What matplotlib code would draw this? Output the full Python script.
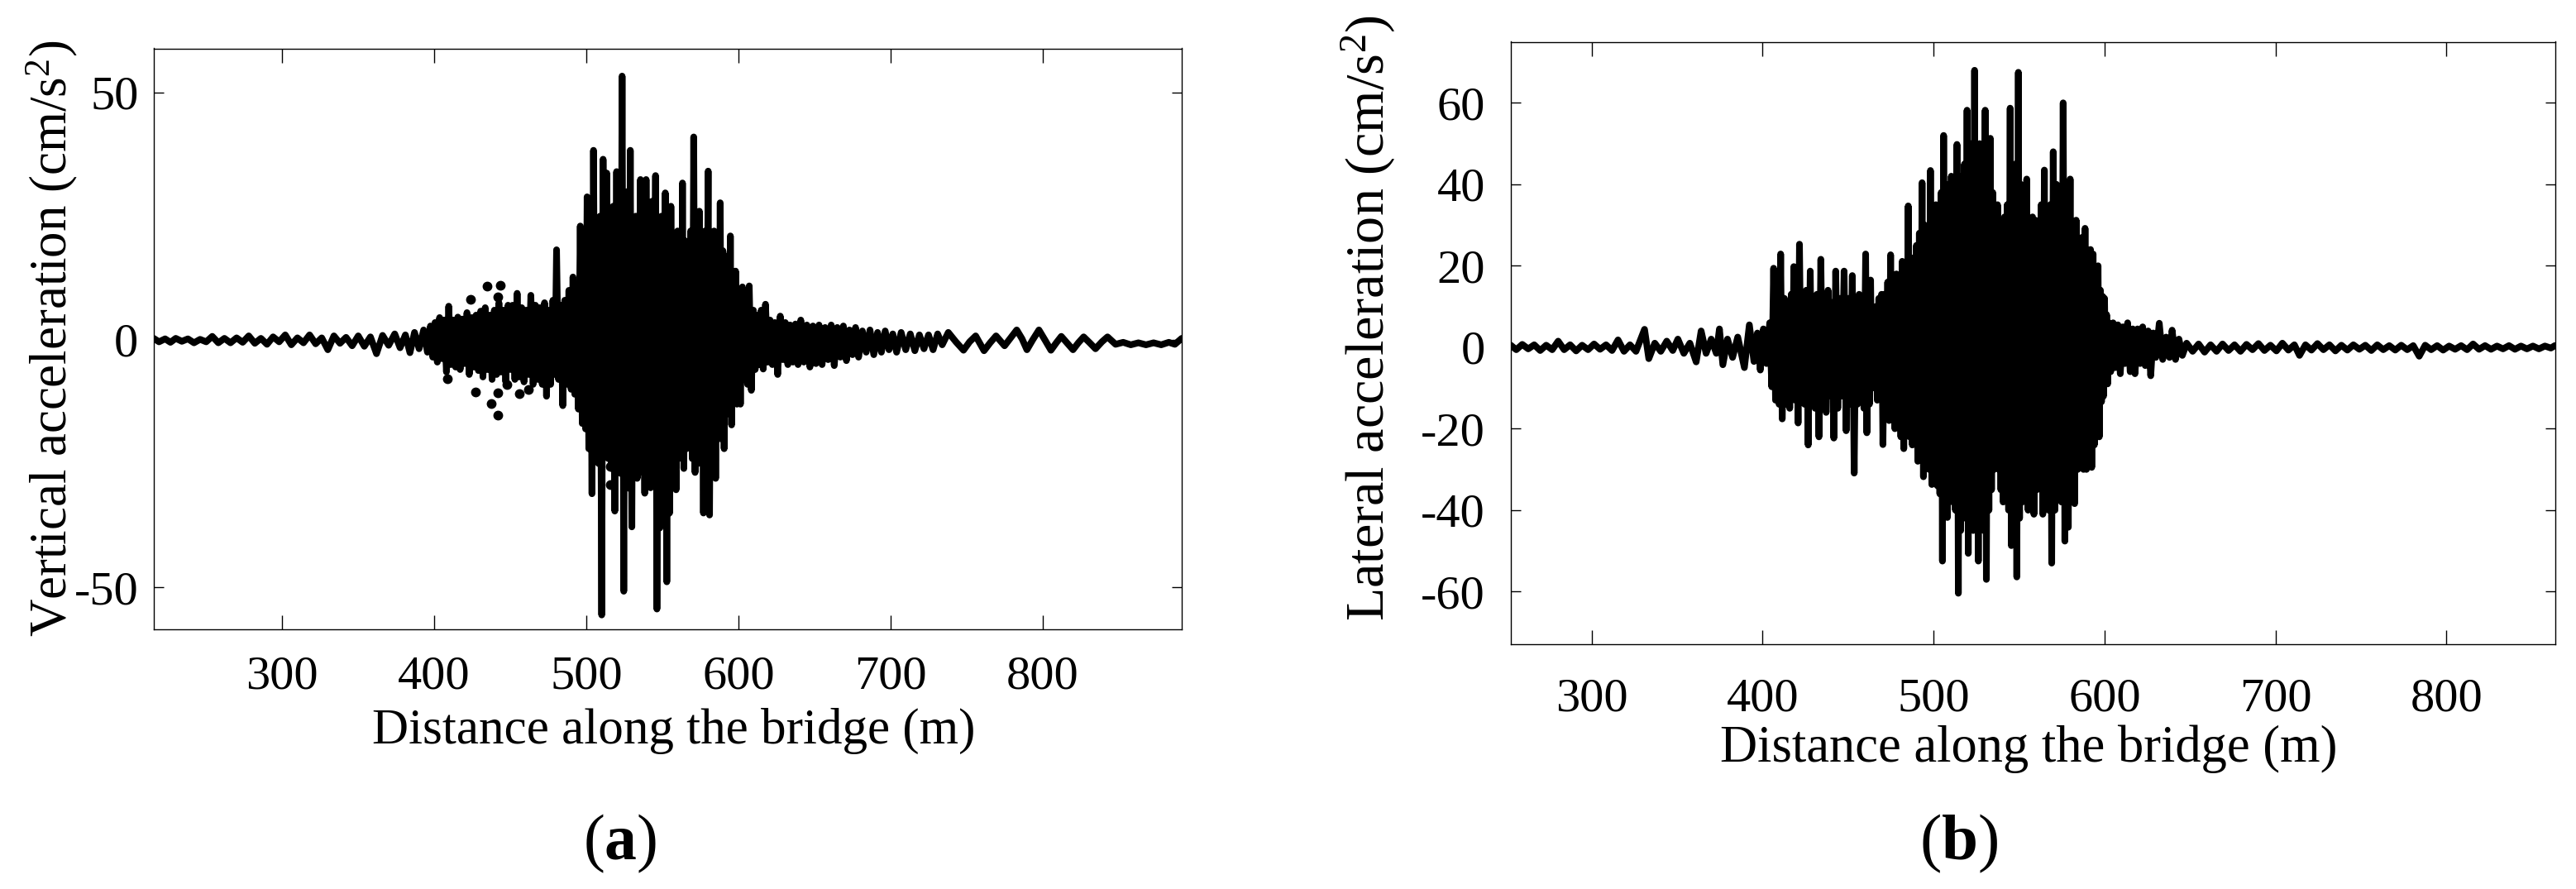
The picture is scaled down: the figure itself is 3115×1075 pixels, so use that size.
import matplotlib
matplotlib.use("Agg")
import matplotlib.pyplot as plt

# ---------------- data ----------------
# Panel (a): vertical acceleration, successive extremes (distance m, cm/s^2)
vert_trace = [
    (215.5, 0.3), (219, -0.4), (223, 0.2), (226.5, -0.5), (230, 0.3), (234, -0.3), (238, 0.2),
    (242, -0.6), (246, 0.1), (250, -0.4), (254, 0.7), (258, -0.6), (262, 0.3), (266, -0.6),
    (270, 0.4), (274, -0.5), (278, 0.8), (282, -0.7), (286, 0.3), (290, -0.9), (294, 0.6),
    (298, -0.4), (302, 1.0), (306, -1.0), (310, 0.4), (314, -0.6), (318, 1.0), (322, -0.8),
    (326, 0.4), (330, -2.0), (334, 0.8), (338, -0.7), (342, 0.5), (346, -1.2), (350, 0.8),
    (354, -1.3), (358, 0.6), (362, -2.8), (366, 0.9), (370, -1.1), (374, 1.2), (377.5, -1.6),
    (381, 1.0), (384, -2.6), (387, 1.5), (390, -1.8), (393, 2.0), (395.5, -2.5), (397.5, 2.8),
    (399, -3.5), (400.5, 3.5), (402, -4.5), (403.5, 4.5), (405, -3.8), (406.5, 4.0), (408, -6.5),
    (409.5, 6.8), (411, -5.0), (412.5, 4.0), (414, -5.5), (415.5, 4.6), (417, -6.0), (418.5, 4.2),
    (420, -4.8), (421.5, 5.5), (423, -7.0), (424.5, 4.5), (426, -5.5), (427.5, 5.0), (429, -6.2),
    (430.5, 5.8), (432, -7.5), (433.5, 6.5), (435, -6.0), (436.5, 5.0), (438, -8.0), (439.5, 6.0),
    (441, -7.0), (442.5, 7.5), (444, -6.5), (445.5, 6.0), (447, -8.5), (448.5, 7.0), (450, -6.0),
    (451.5, 7.0), (453, -8.0), (454.5, 9.4), (456, -7.5), (457.5, 6.5), (459, -8.5), (460.5, 6.0),
    (462, -7.0), (463.5, 9.0), (465, -9.0), (466.5, 7.0), (468, -8.0), (469.5, 6.5), (471, -9.0),
    (472.5, 7.5), (473.8, -11.4), (475, 6.0), (476.5, -9.0), (478, 8.0), (479.3, -7.0),
    (480.4, 18.2), (481.7, -8.0), (483, 7.0), (484.5, -13.3), (485.8, 8.0), (487, -9.0),
    (488.5, 10.0), (490.0, -10.0), (491.2, 12.7), (492.4, -11), (493.6, 11), (494.8, -14),
    (496.0, 23), (497.3, -16.9), (498.4, 14), (499.5, -18), (500.5, 28.9), (501.6, -22),
    (502.6, 20), (503.7, -31.1), (504.7, 38.3), (505.8, -20), (506.9, 22), (508.0, -25),
    (509.0, 25), (510.1, -55.6), (511.0, 36.5), (512.2, -22), (513.4, 33.7), (514.4, -24),
    (515.5, 22), (516.6, -26), (517.6, 27), (518.7, -34.6), (519.9, 34), (520.8, -25),
    (521.8, 24), (522.6, -27), (523.5, 53.3), (524.6, -50.8), (525.4, 22), (526.3, -26),
    (527.2, 30), (528.0, -30), (528.9, 38.3), (529.9, -37.8), (530.8, 24), (531.7, -24),
    (532.5, 25), (533.4, -28), (534.2, 22), (535.0, -26.8), (535.6, 32.4), (536.5, -22),
    (537.4, 26), (538.4, -31), (539.3, 32.4), (540.3, -26), (541.2, 24), (542.2, -29.9),
    (543.2, 28), (544.3, -24), (545.5, 33.2), (546.4, -54.4), (547.5, 22), (548.4, -38),
    (549.4, 25), (550.6, -26), (551.9, 29.7), (552.9, -48.9), (553.8, 24), (554.7, -35),
    (555.6, 27), (556.6, -28), (557.8, 20), (559.0, -30.3), (560.0, 22), (560.8, -24),
    (561.6, 20), (562.4, -22), (563.2, 31.7), (564.1, -26), (565.0, 20), (565.9, -22),
    (566.8, 19), (567.7, -20), (568.6, 22), (569.6, -24), (570.6, 41.0), (571.5, -26.8),
    (572.5, 24), (573.4, -25), (574.3, 26), (575.1, -22), (576.0, 20), (577.0, -35),
    (578.0, 22), (579.0, -24), (580.1, 34.1), (581.0, -35.4), (582.0, 20), (583.0, -26),
    (584.0, 22), (585.0, -28), (586.0, 19), (587.0, -20), (588.0, 27.7), (588.9, -20),
    (589.8, 18), (590.6, -22), (591.5, 16), (592.3, -15), (593.2, 17), (594.0, -14),
    (594.7, 21), (595.5, -17.2), (596.4, 12), (597.2, -12), (598.1, 13.9), (599.0, -13),
    (600.0, 9), (601.3, -13), (602.6, 10.7), (603.8, -8), (605.0, 8), (606.0, -9),
    (607.1, 10.9), (608.5, -10.2), (609.8, 6), (611.0, -6), (612.0, 5), (613.5, -5),
    (615, 6), (616.3, -5.9), (617.8, 7.2), (619.3, -4.5), (620.8, 4), (622.3, -5), (624, 3.5),
    (625.8, -7.0), (627.5, 4.8), (629.2, -4.0), (630.8, 3.5), (632.5, -5), (634, 3),
    (635.8, -4.5), (637.5, 3.2), (639.2, -5.0), (641, 4.0), (643, -4.5), (645, 3), (647, -5.5),
    (649, 2.8), (651, -4.8), (653, 3.0), (655, -5.0), (657, 2.5), (659, -4.0), (661, 3.0),
    (663, -5.2), (665, 2.5), (667, -3.5), (669, 2.8), (671, -4.2), (673, 2.0), (675, -3.0),
    (677, 2.5), (679, -3.5), (681.5, 1.8), (684, -2.5), (686.5, 2.0), (689, -3.0), (691.5, 1.5),
    (694, -2.5), (696.5, 1.8), (699, -2.0), (701.5, 1.2), (704, -2.5), (707, 1.5), (710, -2.0),
    (713, 1.2), (716, -2.2), (719, 1.0), (722, -1.8), (725, 1.0), (728, -2.0), (731, 1.2),
    (734, -1.0), (738, 1.5), (743, -0.4), (748, -2.1), (752, -0.4), (756, 0.8), (761.5, -2.2),
    (765.5, -0.6), (769.4, 0.8), (775, -1.2), (779, 0.4), (783, 2.0), (786.5, 0.2),
    (789.7, -2.0), (793.5, 0.0), (797.6, 2.0), (801.5, 0.0), (805.5, -2.1), (809, -0.6),
    (812.3, 0.7), (816, -0.6), (820, -2.0), (823.5, -0.6), (827, 0.6), (831, -0.6),
    (834.8, -1.8), (839, -0.4), (842.7, 0.6), (848, -0.9), (853, -0.5), (858, -1.0),
    (863, -0.6), (868, -1.0), (873, -0.6), (878, -1.0), (883, -0.5), (887, -0.9), (891.5, 0.3),
]
# isolated sample dots visible in panel (a)
vert_dots = [
    (408.6, -7.8), (424.1, 8.1), (427.3, -10.6), (434.8, 10.9), (437.4, -12.8), (441.7, -15.3),
    (441.9, -10.7), (443.5, 11.1), (441.9, 8.7), (447.5, -9.0), (455.9, -10.8), (461.7, -10.0),
    (515.5, -19.3), (515.5, -22.8), (515.5, -25.6), (515.5, -29.2), (515.5, 17.0),
]

# Panel (b): lateral acceleration, successive extremes (distance m, cm/s^2)
lat_trace = [
    (252.8, 0.5), (256, -0.6), (259.5, 0.7), (263, -0.4), (266.5, 0.6), (270, -0.8), (273.5, 0.5),
    (277, -0.6), (280.5, 1.5), (284, -0.6), (287.5, 0.6), (291, -0.9), (294.5, 0.5), (298, -0.6),
    (301.5, 0.8), (305, -0.5), (308.5, 0.6), (312, -0.8), (315.5, 1.8), (319, -1.0), (322.5, 0.6),
    (326, -1.0), (331, 4.4), (333.5, -2.8), (337, 1.0), (340.5, -1.0), (344, 1.5), (347.5, -0.8),
    (350.5, 2.0), (354, -1.5), (357.5, 1.0), (361.2, -3.6), (364.1, 4.0), (367, -1.5), (370, 2.0),
    (373, -1.5), (374.8, 4.5), (376.8, -4.3), (379.5, 2.0), (382.5, -2.5), (385.5, 2.5),
    (389.4, -5.0), (392.3, 5.5), (395, -3.5), (397, 3.5), (398.7, -5.6), (400.5, 4.5),
    (402.3, -4.0), (404.2, 6), (405.4, -9.7), (406.5, 19.4), (407.6, -13), (408.7, 12),
    (409.7, -14), (410.6, 22.9), (411.5, -17.6), (412.8, 12), (413.9, -14), (415.0, 11),
    (415.9, -15), (416.8, 13), (417.5, -12), (418.3, 19.8), (419.1, -13), (420.0, 12),
    (420.8, -18.6), (421.6, 25.3), (422.6, -12), (423.6, 12), (424.6, -14), (425.6, 14),
    (426.7, -24), (427.9, 18.7), (428.8, -13), (429.8, 12), (430.8, -15), (431.8, 13),
    (433.0, -22), (434.1, 21.6), (435.1, -14), (436.2, 12), (437.2, -16), (438.3, 14),
    (439.4, -12), (440.5, 11), (441.7, -22.3), (442.8, 18.7), (444.0, -15), (445.2, 12),
    (446.4, -12), (447.7, 18.7), (448.9, -20.5), (450.1, 12), (451.3, -14), (452.5, 17.6),
    (453.6, -30.9), (454.6, 11), (455.5, -14), (456.5, 13), (457.4, -12), (458.4, 12),
    (459.3, -15), (460.3, 22.9), (461.0, -21), (461.8, 10), (462.5, -14), (463.2, 16.5),
    (463.9, -9.7), (464.6, 8), (465.4, -10), (466.2, 10), (467.1, -13), (468.0, 12),
    (468.8, -12), (469.6, 13), (470.4, -23.9), (471.4, 13), (472.3, -15), (473.2, 16),
    (474.0, -18), (474.9, 22.7), (475.7, -17), (476.6, 15), (477.4, -20), (478.3, 18),
    (479.1, -18), (480.0, 16), (480.9, -22), (481.7, 21.1), (482.6, -24.9), (483.5, 18),
    (484.3, -20), (485.2, 34.7), (486.0, -22), (486.8, 20), (487.6, -24), (488.4, 22),
    (489.2, -22), (490.0, 25), (490.8, -28), (491.7, 28), (492.5, -25), (493.3, 40.4),
    (494.1, -31.8), (494.9, 30), (495.7, -28), (496.6, 28), (497.4, -30), (498.2, 43.4),
    (499.0, -33.7), (499.8, 30), (500.6, -30), (501.4, 35), (502.2, -34), (503.0, 32),
    (503.7, -36), (504.5, 38), (505.2, -52.5), (505.9, 52), (506.6, -38), (507.4, 40),
    (508.1, -41.8), (508.9, 35), (509.6, -35), (510.4, 42), (511.2, -38), (512.0, 38),
    (512.8, -40), (513.7, 49.8), (514.5, -60.4), (515.2, 42), (515.9, -45), (516.6, 38),
    (517.3, -40), (518.1, 45), (518.8, -42), (519.6, 58.2), (520.3, -50.6), (521.0, 45),
    (521.7, -42), (522.5, 50), (523.2, -45), (524.0, 68), (524.7, -40), (525.5, 42),
    (526.2, -52.5), (527.0, 50), (527.8, -42), (528.6, 45), (529.4, -45), (530.2, 58.2),
    (530.9, -57), (531.7, 40), (532.4, -40), (533.2, 51.3), (533.9, -35), (534.6, 38),
    (535.3, -30), (536.0, 30), (536.7, -23.5), (537.4, 35), (538.1, -30), (538.8, 25),
    (539.4, -35), (540.0, 31.2), (540.7, -38), (541.5, 32), (542.3, -35), (543.1, 35),
    (543.9, -40), (544.8, 58.7), (545.5, -48.7), (546.3, 42), (547.1, -40), (547.9, 45),
    (548.7, -56.4), (549.6, 67.5), (550.3, -42), (551.1, 40), (552.0, -38), (552.8, 35),
    (553.6, -35.3), (554.5, 41.3), (555.3, -40), (556.2, 30), (557.0, -35), (557.9, 32),
    (558.7, -41), (559.6, 31.2), (560.4, -35), (561.3, 30), (562.1, -32), (563.0, 35),
    (563.9, -41), (564.8, 43.5), (565.6, -35), (566.5, 30), (567.4, -40), (568.3, 35),
    (569.1, -53), (570.0, 48), (571.0, -40), (571.9, 40), (572.9, -35), (573.9, 38),
    (574.8, -38), (575.8, 60), (576.8, -47.6), (577.8, 35), (578.8, -44.2), (579.9, 41.3),
    (580.7, -38), (581.6, 28), (582.5, -38.4), (583.4, 31.2), (584.3, -30), (585.2, 25),
    (586.0, -28), (586.9, 27), (587.7, -30), (588.6, 29.2), (589.4, -30), (590.2, 22),
    (591.0, -25), (591.8, 24), (592.5, -29.5), (593.3, 22.9), (594.0, -24), (594.8, 18),
    (595.5, -20), (596.2, 20), (596.9, -22), (597.6, 14), (598.2, -13.4), (598.9, 12.5),
    (599.4, -12), (600.0, 12), (600.6, -8), (601.2, 8), (601.8, -9), (602.4, 6),
    (603.6, -6), (605.0, 6.0), (606.4, -5), (607.8, 5.5), (609.2, -6.5), (610.6, 5.0),
    (612, -4), (613.5, 6.0), (615, -6.0), (616.5, 4.5), (617.8, -6.5), (619.3, 4.5),
    (620.8, -4), (622.3, 5.0), (623.8, -4.5), (625.5, 4.0), (627, -7), (628.5, 3.5),
    (630, -2.5), (632, 5.9), (634, -3.0), (636, 2.5), (638, -2.5), (639.5, 4.2), (641.5, -3.0),
    (643.5, 2.0), (645.5, -2.0), (648, 1.0), (651.5, -1.0), (655, 0.8), (658.5, -1.2),
    (662, 0.6), (665.5, -1.0), (669, 0.8), (672.5, -0.8), (676, 0.6), (679.5, -1.0), (683, 0.7),
    (686.5, -0.6), (690, 0.9), (693.5, -0.8), (697, 0.5), (700.5, -0.9), (704, 1.0),
    (707.5, -0.7), (711, 0.6), (714, -2.0), (717.5, 0.6), (721, -0.7), (724.5, 0.9), (728, -0.6),
    (731.5, 0.6), (735, -0.9), (738.5, 0.5), (742, -0.7), (745.5, 0.6), (749, -0.5),
    (752.5, 0.5), (756, -0.8), (759.5, 0.6), (763, -0.6), (766.5, 0.4), (770, -0.7),
    (773.5, 0.5), (777, -0.6), (780.5, 0.4), (784, -2.2), (787.5, 0.5), (791, -0.6),
    (794.5, 0.4), (798, -0.7), (801.5, 0.3), (805, -0.5), (808.5, 0.4), (812, -0.6),
    (815.5, 0.8), (819, -0.5), (822.5, 0.4), (826, -0.5), (829.5, 0.3), (833, -0.4),
    (836.5, 0.4), (840, -0.5), (843.5, 0.3), (847, -0.4), (850.5, 0.3), (854, -0.4),
    (857.5, 0.3), (861, -0.2), (863.3, 0.4),
]

xticks_a = [300, 400, 500, 600, 700, 800]
yticks_a = [-50, 0, 50]
xticks_b = [300, 400, 500, 600, 700, 800]
yticks_b = [-60, -40, -20, 0, 20, 40, 60]
xlim_a = (215.3, 891.5)
ylim_a = (-58.5, 58.9)
xlim_b = (252.6, 863.4)
ylim_b = (-72.97, 75.0)

xlabel = "Distance along the bridge (m)"
ylabel_a = r"Vertical acceleration (cm/s$^2$)"
ylabel_b = r"Lateral acceleration (cm/s$^2$)"
panel_a = r"($\mathbf{a}$)"
panel_b = r"($\mathbf{b}$)"

# ---------------- style ----------------
plt.rcParams["font.family"] = ["Liberation Serif", "DejaVu Serif"]
plt.rcParams["mathtext.fontset"] = "custom"
plt.rcParams["mathtext.rm"] = "Liberation Serif"
plt.rcParams["mathtext.it"] = "Liberation Serif:italic"
plt.rcParams["mathtext.bf"] = "Liberation Serif:bold"
plt.rcParams["axes.unicode_minus"] = False

W, H = 3115, 1075
fig = plt.figure(figsize=(W / 100, H / 100), dpi=100)
fig.patch.set_facecolor("white")

axa = fig.add_axes([185.5 / W, 1 - 761 / H, (1429 - 185.5) / W, (761 - 58.5) / H])
axb = fig.add_axes([1826.5 / W, 1 - 779.3 / H, (3089.6 - 1826.5) / W, (779.3 - 50.5) / H])

line_kw = dict(color="black", lw=5.8, solid_joinstyle="round", solid_capstyle="round")

dist_a = [p[0] for p in vert_trace]
acc_a = [p[1] for p in vert_trace]
axa.plot(dist_a, acc_a, **line_kw)
axa.plot([p[0] for p in vert_dots], [p[1] for p in vert_dots], "o",
         color="black", ms=7.5, mec="black")

dist_b = [p[0] for p in lat_trace]
acc_b = [p[1] for p in lat_trace]
axb.plot(dist_b, acc_b, **line_kw)


def style(ax, xt, yt, xlim, ylim, xpad, ypad):
    ax.set_xlim(*xlim)
    ax.set_ylim(*ylim)
    ax.set_xticks(xt)
    ax.set_xticklabels([str(v) for v in xt])
    ax.set_yticks(yt)
    ax.set_yticklabels([str(v) for v in yt])
    for s in ax.spines.values():
        s.set_linewidth(1.0)
    ax.tick_params(axis="x", direction="in", top=True, bottom=True, length=12.2,
                   width=1.0, pad=xpad, labelsize=42)
    ax.tick_params(axis="y", direction="in", left=True, right=True, length=8.6,
                   width=1.0, pad=ypad, labelsize=42)


style(axa, xticks_a, yticks_a, xlim_a, ylim_a, 23, 13)
style(axb, xticks_b, yticks_b, xlim_b, ylim_b, 29, 22)

axa.set_xlabel(xlabel, fontsize=44)
axa.xaxis.set_label_coords(0.5056, -0.135)
axb.set_xlabel(xlabel, fontsize=45)
axb.xaxis.set_label_coords(0.496, -0.134)

axa.set_ylabel(ylabel_a, fontsize=45.3)
axa.yaxis.set_label_coords(-0.072, 0.5)
axb.set_ylabel(ylabel_b, fontsize=47.6)
axb.yaxis.set_label_coords(-0.109, 0.541)

fig.text(750 / W, 1 - 1020 / H, panel_a, ha="center", va="center", fontsize=56)
fig.text(2369 / W, 1 - 1020 / H, panel_b, ha="center", va="center", fontsize=57)

fig.savefig("out.png", dpi=100, facecolor="white")
